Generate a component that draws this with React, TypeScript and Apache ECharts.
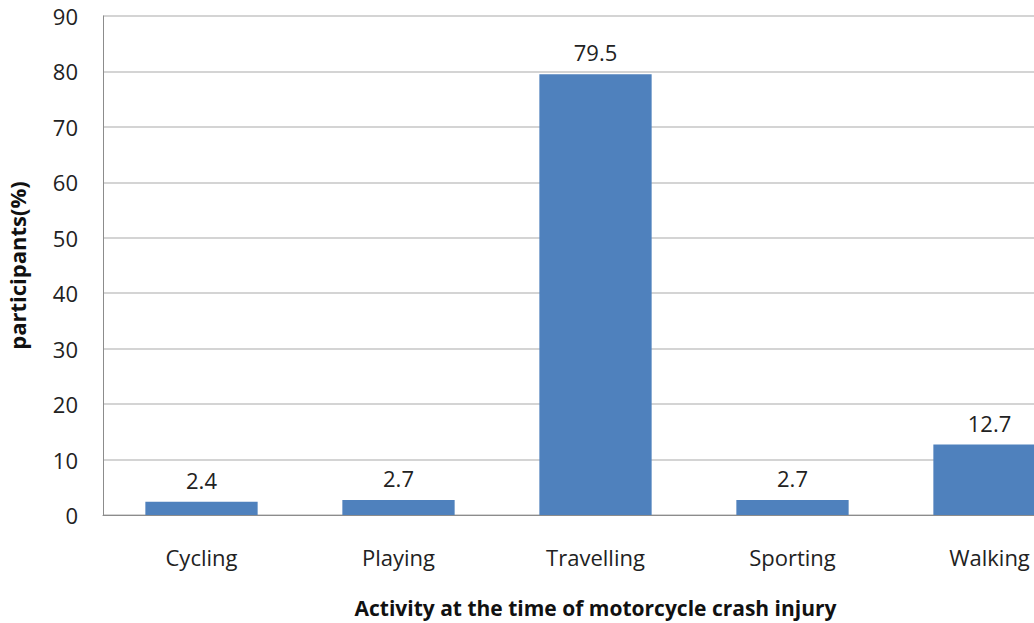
import React, { useEffect, useRef } from "react";
import * as echarts from "echarts";

const categories = ["Cycling", "Playing", "Travelling", "Sporting", "Walking"];
const values = [2.4, 2.7, 79.5, 2.7, 12.7];
const yTicks = { min: 0, max: 90, interval: 10 };
const xTitle = "Activity at the time of motorcycle crash injury";
const yTitle = "participants(%)";

const FONT = "'Open Sans', sans-serif";

export default function App() {
  const ref = useRef<HTMLDivElement>(null);

  useEffect(() => {
    if (!ref.current) return;
    const chart = echarts.init(ref.current, null, { renderer: "svg" });
    chart.setOption({
      animation: false,
      grid: {
        left: 103,
        right: 2,
        top: 16,
        bottom: 108,
        containLabel: false,
        outerBoundsMode: "none",
      },
      xAxis: {
        type: "category",
        data: categories,
        axisLine: { lineStyle: { color: "#8c8c8c", width: 1 } },
        axisTick: { show: false },
        axisLabel: { color: "#222", fontSize: 22, fontFamily: FONT, margin: 31 },
        name: xTitle,
        nameLocation: "middle",
        nameGap: 82,
        nameTextStyle: { color: "#111", fontSize: 21, fontWeight: "bold", fontFamily: FONT },
      },
      yAxis: {
        type: "value",
        min: yTicks.min,
        max: yTicks.max,
        interval: yTicks.interval,
        axisLine: { show: true, lineStyle: { color: "#8c8c8c", width: 1 } },
        axisTick: { show: false },
        axisLabel: { color: "#222", fontSize: 22, fontFamily: FONT, margin: 25 },
        splitLine: { lineStyle: { color: "#d4d4d4", width: 2 } },
        name: yTitle,
        nameLocation: "middle",
        nameGap: 75,
        nameRotate: 90,
        nameTextStyle: { color: "#111", fontSize: 22, fontWeight: "bold", fontFamily: FONT },
      },
      series: [
        {
          type: "bar",
          data: values,
          barWidth: "57%",
          itemStyle: { color: "#4f81bd" },
          label: {
            show: true,
            position: "top",
            distance: 11,
            color: "#222",
            fontSize: 22,
            fontFamily: FONT,
          },
        },
      ],
    });
    return () => chart.dispose();
  }, []);

  return (
    <div
      style={{
        position: "absolute",
        left: 0,
        top: 0,
        width: 1034,
        height: 623,
        overflow: "hidden",
        background: "#fff",
      }}
    >
      <div ref={ref} style={{ width: 1090, height: 623 }} />
    </div>
  );
}
